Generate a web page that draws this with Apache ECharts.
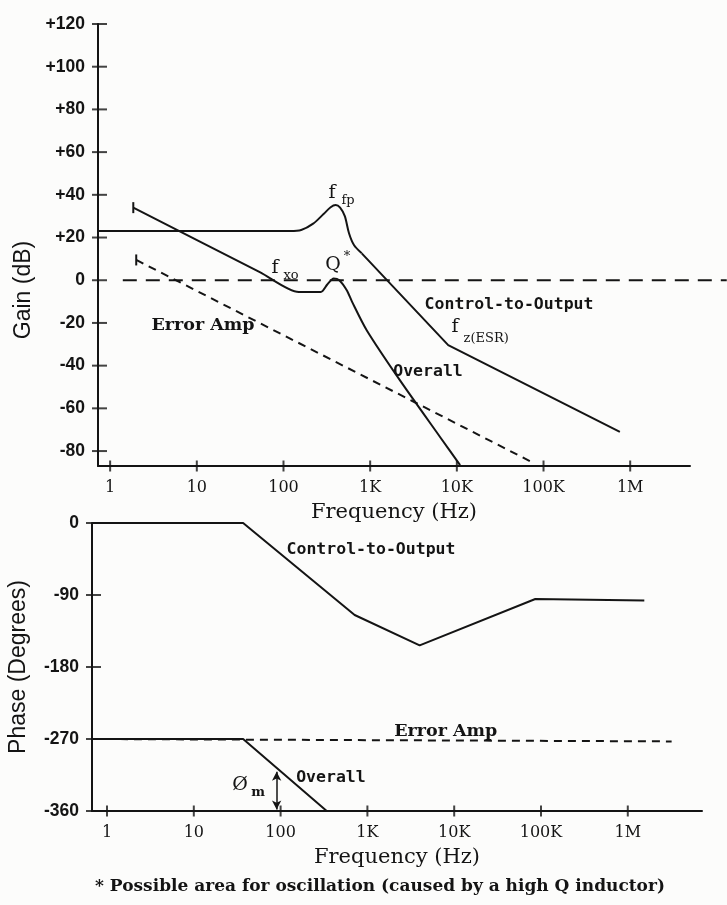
<!DOCTYPE html>
<html>
<head>
<meta charset="utf-8">
<script src="https://cdn.jsdelivr.net/npm/echarts@6/dist/echarts.min.js"></script>
<style>
html, body { margin: 0; padding: 0; background: #fcfcfb; }
#draw { width: 727px; height: 905px; }
</style>
</head>
<body>
<div id="draw"></div>
<script>
// axes
var decadeTicks = [1, 10, 100, 1000, 10000, 100000, 1000000];
var decadeLabels = ['1', '10', '100', '1K', '10K', '100K', '1M'];
var gainTicks = [-80, -60, -40, -20, 0, 20, 40, 60, 80, 100, 120];
var phaseTicks = [-360, -270, -180, -90, 0];
var gainRange = [-87, 120];
var phaseRange = [-360, 0];
var gainLogRange = [-0.14, 6.69];
var phaseLogRange = [-0.173, 6.855];

// gain plot (Hz, dB)
var ctoGainFreq = [0.72, 120, 160, 220, 290, 350, 400, 450, 510, 570, 650, 800, 7950, 760000];
var ctoGainDb = [23, 23, 23.5, 26.5, 31, 34.2, 35.2, 34, 30, 22, 16.5, 12.6, -30.4, -71];
var ctoGainBend = 11; // index where the curve turns into straight asymptotes
var eaGainFreq = [2, 76000];
var eaGainDb = [9.5, -85.5];
var ovGainFreq = [1.85, 54, 150, 270, 320, 379, 440, 537, 617, 912, 2200, 6400, 10900];
var ovGainDb = [34, 3.7, -5.5, -5.5, -2, 0.8, 0, -4.7, -10, -23.4, -46.8, -73.4, -86.6];
var zeroFreq = [1.4, 13000000];
var zeroDb = [0, 0];

// phase plot (Hz, degrees)
var ctoPhaseFreq = [0.67, 37, 713, 4000, 86000, 1550000];
var ctoPhaseDeg = [0, 0, -115, -153, -95, -97];
var eaPhaseFreq = [0.67, 3200000];
var eaPhaseDeg = [-270, -273];
var ovPhaseFreq = [0.67, 37, 340];
var ovPhaseDeg = [-270, -270, -360];
var marginFreq = 90;
var marginDeg = [-311, -358];

// text on the plots: grid, Hz, value, text, style
var annotations = [
	[0, 363, 40.7, 'f', 'sym'],
	[0, 556, 37.5, 'fp', 'sub'],
	[0, 80, 5.6, 'f', 'sym'],
	[0, 122, 2.3, 'xo', 'sub'],
	[0, 373, 7, 'Q', 'sym'],
	[0, 540, 11.2, '*', 'sub'],
	[0, 11.8, -21, 'Error Amp', 'serifBold'],
	[0, 40000, -11.7, 'Control-to-Output', 'mono'],
	[0, 9500, -22, 'f', 'sym'],
	[0, 21800, -27.2, 'z(ESR)', 'sub'],
	[0, 4650, -43, 'Overall', 'mono'],
	[1, 1100, -34, 'Control-to-Output', 'mono'],
	[1, 8000, -260, 'Error Amp', 'serifBold'],
	[1, 380, -319, 'Overall', 'mono'],
	[1, 34, -327.5, 'Ø', 'sym'],
	[1, 55, -337.5, 'm', 'subBold']
];

var ink = '#141414';
var textStyles = {
	sym: { fontFamily: 'DejaVu Serif', fontSize: 19 },
	sub: { fontFamily: 'DejaVu Serif', fontSize: 13 },
	subBold: { fontFamily: 'DejaVu Serif', fontSize: 13, fontWeight: 'bold' },
	mono: { fontFamily: 'DejaVu Sans Mono', fontSize: 16.5, fontWeight: 'bold' },
	serifBold: { fontFamily: 'DejaVu Serif', fontSize: 17.5, fontWeight: 'bold' }
};

var logTicks = decadeTicks.map(function(f) {
	return Math.log10(f);
});

function pts(fs, vs) {
	return fs.map(function(f, i) {
		return [Math.log10(f), vs[i]];
	});
}

function freqAxis(grid, range) {
	return {
		gridIndex : grid,
		type : 'value',
		min : range[0],
		max : range[1],
		splitLine : { show : false },
		axisLine : { onZero : false, lineStyle : { color : ink, width : 2 } },
		axisTick : { show : false },
		axisLabel : {
			customValues : logTicks,
			margin : 14,
			color : ink,
			fontFamily : 'DejaVu Serif',
			fontSize : 16,
			formatter : function(v) {
				return decadeLabels[Math.round(v)] || '';
			}
		},
		name : 'Frequency (Hz)',
		nameLocation : 'middle',
		nameGap : 36,
		nameTextStyle : { color : ink, fontFamily : 'DejaVu Serif', fontSize : 21 }
	};
}

function valueAxis(grid, range, ticks) {
	return {
		gridIndex : grid,
		type : 'value',
		min : range[0],
		max : range[1],
		splitLine : { show : false },
		axisLine : { onZero : false, lineStyle : { color : ink, width : 2 } },
		axisTick : { show : false },
		axisLabel : {
			customValues : ticks,
			margin : 13,
			color : ink,
			fontFamily : 'Liberation Sans',
			fontWeight : 'bold',
			fontSize : 17.5,
			formatter : function(v) {
				return v > 0 ? '+' + v : String(v);
			}
		}
	};
}

function curve(xi, data, dash, extra) {
	var s = {
		type : 'line',
		xAxisIndex : xi,
		yAxisIndex : xi,
		data : data,
		symbol : 'none',
		silent : true,
		lineStyle : { color : ink, width : 2, type : dash || 'solid' }
	};
	for (var k in extra) s[k] = extra[k];
	return s;
}

// tick marks that cross the axis line, as in the drawing
function crossTicks(xi, data, size, offset) {
	return {
		type : 'scatter',
		xAxisIndex : xi,
		yAxisIndex : xi,
		data : data,
		symbol : 'rect',
		symbolSize : size,
		symbolOffset : offset,
		clip : false,
		silent : true,
		itemStyle : { color : ink }
	};
}

// a short stroke across the start of a line
function startMark(fs, vs) {
	var p = pts(fs, vs)[0];
	return { value : p, symbol : 'rect', symbolSize : [ 2, 11 ] };
}

var myChart = echarts.init(document.getElementById('draw'));

var ctoGain = pts(ctoGainFreq, ctoGainDb);
var eaGain = pts(eaGainFreq, eaGainDb);
var ovGain = pts(ovGainFreq, ovGainDb);
eaGain[0] = startMark(eaGainFreq, eaGainDb);
ovGain[0] = startMark(ovGainFreq, ovGainDb);

var option = {
	animation : false,
	backgroundColor : '#fcfcfb',
	grid : [
		{ left : 98, right : 37, top : 24, bottom : 439 },
		{ left : 92, right : 25, top : 523, bottom : 94 }
	],
	xAxis : [ freqAxis(0, gainLogRange), freqAxis(1, phaseLogRange) ],
	yAxis : [ valueAxis(0, gainRange, gainTicks), valueAxis(1, phaseRange, phaseTicks) ],
	series : [
		curve(0, eaGain, [8, 6], { showSymbol : true, itemStyle : { color : ink } }),
		curve(0, ctoGain.slice(0, ctoGainBend + 1), null, { smooth : 0.3 }),
		curve(0, ctoGain.slice(ctoGainBend)),
		curve(0, ovGain, null, { smooth : 0.25, showSymbol : true, itemStyle : { color : ink } }),
		curve(1, pts(eaPhaseFreq, eaPhaseDeg), [8, 6]),
		curve(1, pts(ctoPhaseFreq, ctoPhaseDeg)),
		curve(1, pts(ovPhaseFreq, ovPhaseDeg), null, {
			markLine : {
				silent : true,
				symbol : [ 'arrow', 'arrow' ],
				symbolSize : [ 7, 9 ],
				label : { show : false },
				lineStyle : { color : ink, width : 1.5, type : 'solid' },
				data : [ [ { coord : [ Math.log10(marginFreq), marginDeg[0] ] },
						{ coord : [ Math.log10(marginFreq), marginDeg[1] ] } ] ]
			}
		}),
		crossTicks(0, logTicks.map(function(t) { return [ t, gainRange[0] ]; }), [ 2, 11 ], [ 0, 0 ]),
		crossTicks(0, gainTicks.map(function(v) { return [ gainLogRange[0], v ]; }), [ 15, 2 ], [ 1.5, 0 ]),
		crossTicks(1, logTicks.map(function(t) { return [ t, phaseRange[0] ]; }), [ 2, 11 ], [ 0, 0 ]),
		crossTicks(1, phaseTicks.map(function(v) { return [ phaseLogRange[0], v ]; }), [ 15, 2 ], [ 1.5, 0 ])
	]
};
myChart.setOption(option);

var graphics = annotations.map(function(a) {
	var p = myChart.convertToPixel({ gridIndex : a[0] }, [ Math.log10(a[1]), a[2] ]);
	var st = { text : a[3], fill : ink, align : 'center', verticalAlign : 'middle' };
	var ts = textStyles[a[4]];
	for (var k in ts) st[k] = ts[k];
	return { type : 'text', x : p[0], y : p[1], silent : true, style : st };
});

// the 0 dB reference runs past the plot to the page edge
var z0 = myChart.convertToPixel({ gridIndex : 0 }, [ Math.log10(zeroFreq[0]), zeroDb[0] ]);
var z1 = myChart.convertToPixel({ gridIndex : 0 }, [ Math.log10(zeroFreq[1]), zeroDb[1] ]);
graphics.push({
	type : 'line', silent : true,
	shape : { x1 : z0[0], y1 : z0[1], x2 : z1[0], y2 : z1[1] },
	style : { stroke : ink, lineWidth : 2, lineDash : [ 14, 9 ] }
});

// axis titles
graphics.push({
	type : 'text', x : 24, y : 290, rotation : Math.PI / 2,
	style : { text : 'Gain (dB)', fill : ink, align : 'center', verticalAlign : 'middle',
		fontFamily : 'Liberation Sans', fontSize : 23 }
});
graphics.push({
	type : 'text', x : 19, y : 667, rotation : Math.PI / 2,
	style : { text : 'Phase (Degrees)', fill : ink, align : 'center', verticalAlign : 'middle',
		fontFamily : 'Liberation Sans', fontSize : 23 }
});
graphics.push({
	type : 'text', x : 380, y : 887,
	style : {
		text : '* Possible area for oscillation (caused by a high Q inductor)',
		fill : ink, align : 'center', verticalAlign : 'middle',
		fontFamily : 'DejaVu Serif', fontWeight : 'bold', fontSize : 17
	}
});
myChart.setOption({ graphic : graphics });
</script>
</body>
</html>
